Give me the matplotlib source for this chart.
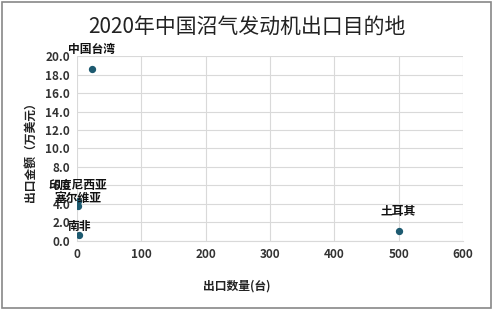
import matplotlib.pyplot as plt
from matplotlib.patches import Rectangle

plt.rcParams['font.family'] = ['Noto Sans CJK SC', 'DejaVu Sans']

# 出口目的地数据
names = ["中国台湾", "印度尼西亚", "塞尔维亚", "南非", "土耳其"]
qty = [23, 2, 2, 3, 500]            # 出口数量(台)
amount = [18.6, 4.3, 3.8, 0.6, 1.1]  # 出口金额(万美元)
# label offsets above each point (pt)
offs = [14, 11.5, 5.5, 6.5, 14]

fig = plt.figure(figsize=(4.94, 3.10), dpi=100)
fig.patches.append(Rectangle((0.004, 0.006), 0.99, 0.988, transform=fig.transFigure,
                             fill=False, edgecolor='#888888', linewidth=1.2))

ax = fig.add_axes([0.156, 0.223, 0.781, 0.596])
ax.scatter(qty, amount, s=18, color='#1d5a70', zorder=3)

ax.set_xlim(0, 600)
ax.set_ylim(0, 20)
ax.set_xticks(range(0, 601, 100))
ax.set_yticks([i * 2 for i in range(11)])
ax.set_yticklabels(["%.1f" % (i * 2) for i in range(11)])
ax.grid(True, color='#d9d9d9', linewidth=0.8)
for s in ax.spines.values():
    s.set_visible(False)
ax.spines['bottom'].set_visible(True)
ax.spines['bottom'].set_color('#d9d9d9')
ax.tick_params(length=0, labelsize=8.5, colors='#333333', pad=5)
for t in ax.get_xticklabels() + ax.get_yticklabels():
    t.set_fontweight('bold')

for n, x, y, o in zip(names, qty, amount, offs):
    ax.annotate(n, (x, y), xytext=(0, o), textcoords='offset points',
                ha='center', va='center', fontsize=8.5, fontweight='bold',
                color='#111111', annotation_clip=False)

fig.text(0.5, 0.915, "2020年中国沼气发动机出口目的地", ha='center', va='center',
         fontsize=15, color='#222222')
fig.text(0.48, 0.078, "出口数量(台)", ha='center', va='center', fontsize=8.5,
         fontweight='bold', color='#222222')
fig.text(0.062, 0.52, "出口金额（万美元）", ha='center', va='center', rotation=90,
         fontsize=8.5, fontweight='bold', color='#222222')

fig.savefig("out.png", dpi=100)
